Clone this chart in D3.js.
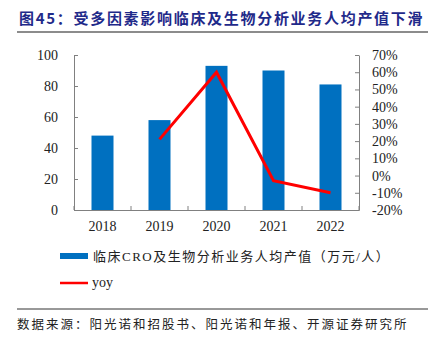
<!DOCTYPE html>
<html>
<head>
<meta charset="utf-8">
<script src="https://cdn.jsdelivr.net/npm/d3@7"></script>
<style>
  body { margin: 0; background: #fff; }
  svg { display: block; font-family: "Liberation Serif", "Noto Sans CJK SC", serif; }
</style>
</head>
<body>
<svg width="428" height="339"></svg>
<script>
const years = ['2018', '2019', '2020', '2021', '2022']
const perCapita = [48, 58, 93, 90, 81]
const yoy = [null, 0.21, 0.60, -0.03, -0.10]
const leftTicks = [0, 20, 40, 60, 80, 100]
const rightTicks = [-0.2, -0.1, 0, 0.1, 0.2, 0.3, 0.4, 0.5, 0.6, 0.7]

const svg = d3.select('svg')
const plotL = 74, plotR = 359, plotT = 55, plotB = 210

const xc = d3.scaleBand().domain(years).range([plotL, plotR])
const yl = d3.scaleLinear().domain([0, 100]).range([plotB, plotT])
const yr = d3.scaleLinear().domain([-0.2, 0.7]).range([plotB, plotT])

// title
svg.append('text').attr('x', 19).attr('y', 24)
  .attr('font-size', 15).attr('font-weight', 'bold').attr('fill', '#1f2a8a')
  .attr('letter-spacing', 1.7)
  .attr('font-family', '"Noto Sans CJK SC", sans-serif')
  .text('图45：受多因素影响临床及生物分析业务人均产值下滑')
svg.append('line').attr('x1', 17).attr('x2', 428).attr('y1', 32).attr('y2', 32)
  .attr('stroke', '#8c8c8c').attr('stroke-width', 2)

// bars
svg.append('g').selectAll('rect').data(perCapita).enter().append('rect')
  .attr('x', function(d, i) { return xc(years[i]) + xc.bandwidth() / 2 - 11 })
  .attr('y', function(d) { return yl(d) })
  .attr('width', 22)
  .attr('height', function(d) { return plotB - yl(d) })
  .attr('fill', '#0070c0')

// line
const line = d3.line()
  .defined(function(d) { return d !== null })
  .x(function(d, i) { return xc(years[i]) + xc.bandwidth() / 2 })
  .y(function(d) { return yr(d) })
svg.append('path').datum(yoy).attr('d', line)
  .attr('fill', 'none').attr('stroke', '#ff0000').attr('stroke-width', 3)

// axes
svg.append('g').attr('transform', 'translate(' + plotL + ',0)')
  .call(d3.axisLeft(yl).tickValues(leftTicks).tickSizeInner(-4).tickSizeOuter(0).tickPadding(16))
svg.append('g').attr('transform', 'translate(' + plotR + ',0)')
  .call(d3.axisRight(yr).tickValues(rightTicks).tickSizeInner(-4).tickSizeOuter(0).tickPadding(13)
    .tickFormat(function(d) { return Math.round(d * 100) + '%' }))
const gb = svg.append('g').attr('transform', 'translate(0,' + plotB + ')')
  .call(d3.axisBottom(xc).tickSize(0).tickPadding(11))
gb.selectAll('.tick').append('line')
  .attr('x1', -xc.bandwidth() / 2).attr('x2', -xc.bandwidth() / 2).attr('y1', 0).attr('y2', -4)
gb.append('line').attr('class', 'edge').attr('x1', plotR).attr('x2', plotR).attr('y1', 0).attr('y2', -4).attr('stroke', '#808080')

svg.selectAll('.domain').attr('stroke', '#808080')
svg.selectAll('.tick line').attr('stroke', '#808080')
svg.selectAll('.tick text').attr('font-size', 14).attr('fill', '#222')
  .attr('font-family', '"Liberation Serif", serif')

// legend
svg.append('rect').attr('x', 60).attr('y', 253).attr('width', 28).attr('height', 6).attr('fill', '#0070c0')
svg.append('text').attr('x', 93).attr('y', 261).attr('font-size', 13).attr('fill', '#222')
  .attr('letter-spacing', 1.5)
  .text('临床CRO及生物分析业务人均产值（万元/人）')
svg.append('line').attr('x1', 60).attr('x2', 88).attr('y1', 283).attr('y2', 283)
  .attr('stroke', '#ff0000').attr('stroke-width', 2.5)
svg.append('text').attr('x', 92).attr('y', 287).attr('font-size', 14).attr('fill', '#222').text('yoy')

// footer
svg.append('line').attr('x1', 17).attr('x2', 428).attr('y1', 309).attr('y2', 309)
  .attr('stroke', '#333').attr('stroke-width', 1)
svg.append('text').attr('x', 17).attr('y', 329).attr('font-size', 12.5).attr('fill', '#222')
  .attr('letter-spacing', 2)
  .attr('font-family', '"Noto Sans CJK SC", sans-serif')
  .text('数据来源：阳光诺和招股书、阳光诺和年报、开源证券研究所')
</script>
</body>
</html>
